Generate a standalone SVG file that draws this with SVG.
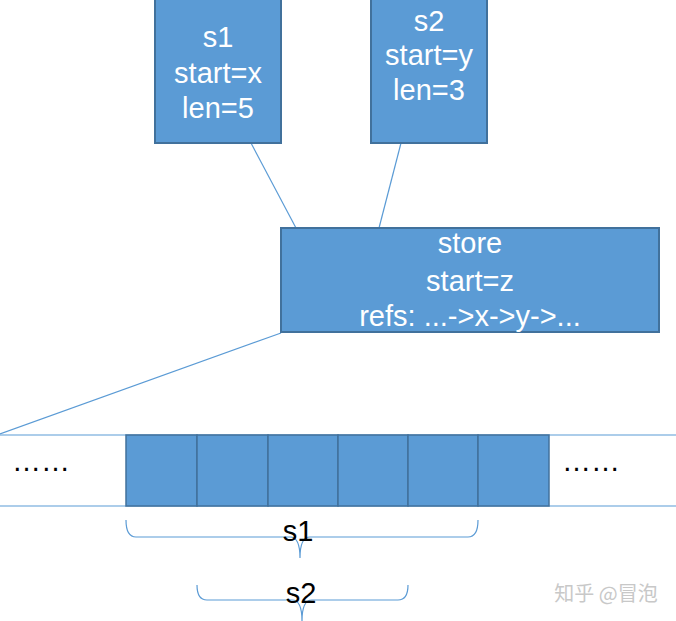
<svg xmlns="http://www.w3.org/2000/svg" width="676" height="621" viewBox="0 0 676 621">
<style>
.box{fill:#5B9BD5;stroke:#41719C;stroke-width:2}
.cell{fill:#5B9BD5;stroke:#41719C;stroke-width:1.5}
.wt{font-family:"Liberation Sans",Arial,sans-serif;font-size:29px;fill:#fff;text-anchor:middle}
.bt{font-family:"Liberation Sans",Arial,sans-serif;font-size:29px;fill:#000;text-anchor:middle}
.ln{stroke:#5B9BD5;stroke-width:1.2;fill:none}
</style>
<rect width="676" height="621" fill="#fff"/>
<g id="connectors">
<line class="ln" x1="251" y1="143" x2="296" y2="228"/>
<line class="ln" x1="401" y1="143" x2="379" y2="228"/>
<line class="ln" x1="281" y1="333" x2="0" y2="434"/>
<line class="ln" x1="0" y1="435" x2="676" y2="435"/>
<line class="ln" x1="0" y1="506" x2="676" y2="506"/>
</g>
<g id="s1">
<rect class="box" x="155" y="-2" width="126" height="145"/>
<text class="wt" x="218" y="47">s1</text>
<text class="wt" x="218" y="83">start=x</text>
<text class="wt" x="218" y="118">len=5</text>
</g>
<g id="s2">
<rect class="box" x="371" y="-2" width="116" height="145"/>
<text class="wt" x="429" y="31">s2</text>
<text class="wt" x="429" y="65">start=y</text>
<text class="wt" x="429" y="100">len=3</text>
</g>
<g id="store">
<rect class="box" x="281" y="228" width="378" height="104"/>
<text class="wt" x="470" y="253">store</text>
<text class="wt" x="470" y="291">start=z</text>
<text class="wt" x="470" y="326">refs: ...-&gt;x-&gt;y-&gt;...</text>
</g>
<g id="array">
<rect class="cell" x="126" y="435" width="71" height="71"/>
<rect class="cell" x="197" y="435" width="71" height="71"/>
<rect class="cell" x="268" y="435" width="70" height="71"/>
<rect class="cell" x="338" y="435" width="70" height="71"/>
<rect class="cell" x="408" y="435" width="70" height="71"/>
<rect class="cell" x="478" y="435" width="71" height="71"/>
<text class="bt" x="41" y="471" style="font-size:29px">……</text>
<text class="bt" x="591" y="471" style="font-size:29px">……</text>
</g>
<g id="brace-s1">
<path class="ln" d="M126,520 Q126,537 136,537 L290,537 Q300,537 300,558 Q300,537 310,537 L468,537 Q478,537 478,520"/>
<text class="bt" x="298" y="541">s1</text>
</g>
<g id="brace-s2">
<path class="ln" d="M197,585 Q197,600 207,600 L292,600 Q302,600 302,621 Q302,600 312,600 L398,600 Q408,600 408,585"/>
<text class="bt" x="301" y="603">s2</text>
</g>
<text x="606" y="601" style="font-family:'Noto Sans CJK SC',sans-serif;font-size:20px;fill:#c8c8c8;text-anchor:middle">知乎 @冒泡</text>
</svg>
